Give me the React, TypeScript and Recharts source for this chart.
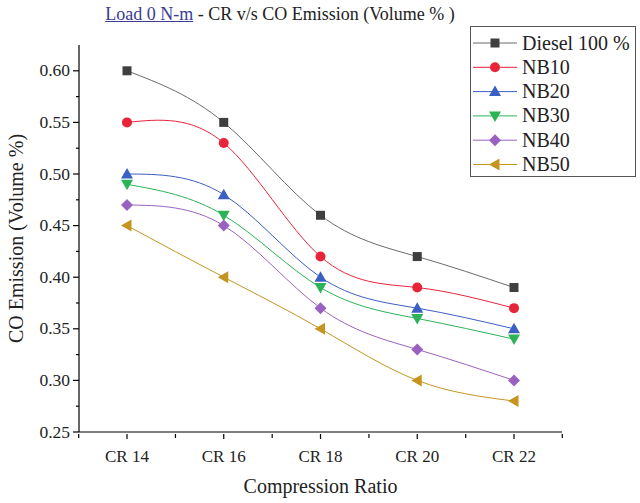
import { LineChart, Line, XAxis, YAxis } from "recharts";

const categories = ["CR 14", "CR 16", "CR 18", "CR 20", "CR 22"];
const diesel = [0.6, 0.55, 0.46, 0.42, 0.39];
const nb10 = [0.55, 0.53, 0.42, 0.39, 0.37];
const nb20 = [0.5, 0.48, 0.4, 0.37, 0.35];
const nb30 = [0.49, 0.46, 0.39, 0.36, 0.34];
const nb40 = [0.47, 0.45, 0.37, 0.33, 0.3];
const nb50 = [0.45, 0.4, 0.35, 0.3, 0.28];

const seriesNames = ["Diesel 100 %", "NB10", "NB20", "NB30", "NB40", "NB50"];
const seriesValues = [diesel, nb10, nb20, nb30, nb40, nb50];
const yTicks = [0.25, 0.275, 0.3, 0.325, 0.35, 0.375, 0.4, 0.425, 0.45, 0.475, 0.5, 0.525, 0.55, 0.575, 0.6];

const FONT = '"Liberation Serif", "Times New Roman", serif';

const styles = [
  { line: "#6a6a6a", fill: "#3f3f3f", shape: "square" },
  { line: "#e8243a", fill: "#e8243a", shape: "circle" },
  { line: "#3b5fc2", fill: "#3b5fc2", shape: "up" },
  { line: "#2db357", fill: "#2db357", shape: "down" },
  { line: "#9a62c0", fill: "#9a62c0", shape: "diamond" },
  { line: "#c59520", fill: "#c59520", shape: "left" },
];

const data = categories.map((cr, i) => {
  const row: Record<string, number | string> = { cr };
  seriesNames.forEach((name, s) => {
    row[name] = seriesValues[s][i];
  });
  return row;
});

function Marker({ cx, cy, shape, fill }: { cx: number; cy: number; shape: string; fill: string }) {
  if (cx == null || cy == null) return null;
  switch (shape) {
    case "square":
      return <rect x={cx - 4.5} y={cy - 4.5} width={9} height={9} fill={fill} />;
    case "circle":
      return <circle cx={cx} cy={cy} r={5} fill={fill} />;
    case "up":
      return <polygon points={`${cx},${cy - 6} ${cx + 6},${cy + 4.5} ${cx - 6},${cy + 4.5}`} fill={fill} />;
    case "down":
      return <polygon points={`${cx},${cy + 6} ${cx + 6},${cy - 4.5} ${cx - 6},${cy - 4.5}`} fill={fill} />;
    case "diamond":
      return <polygon points={`${cx},${cy - 6} ${cx + 6},${cy} ${cx},${cy + 6} ${cx - 6},${cy}`} fill={fill} />;
    case "left":
      return <polygon points={`${cx - 6},${cy} ${cx + 4.5},${cy - 6} ${cx + 4.5},${cy + 6}`} fill={fill} />;
    default:
      return null;
  }
}

const YTick = (props: any) => {
  const { x, y, payload } = props;
  const v = payload.value as number;
  const major = Math.round(v * 1000) % 50 === 0;
  return (
    <g>
      <line x1={x - (major ? 6 : 3)} x2={x} y1={y} y2={y} stroke="#000" strokeWidth={1.2} />
      {major && (
        <text x={x - 9} y={y} dy={5.5} textAnchor="end" fontFamily={FONT} fontSize={17.5} fill="#222">
          {v.toFixed(2)}
        </text>
      )}
    </g>
  );
};

const HALF_BAND = 48.3;

const XTick = (props: any) => {
  const { x, y, payload, index } = props;
  return (
    <g>
      <line x1={x} x2={x} y1={y} y2={y + 5} stroke="#000" strokeWidth={1.2} />
      <line x1={x - HALF_BAND} x2={x - HALF_BAND} y1={y} y2={y + 4} stroke="#000" strokeWidth={1.2} />
      {index === categories.length - 1 && (
        <line x1={x + HALF_BAND} x2={x + HALF_BAND} y1={y} y2={y + 4} stroke="#000" strokeWidth={1.2} />
      )}
      <text x={x} y={y + 28} textAnchor="middle" fontFamily={FONT} fontSize={17} fill="#222">
        {payload.value}
      </text>
    </g>
  );
};

export default function App() {
  return (
    <div style={{ position: "absolute", left: 0, top: 0, width: 640, height: 503, background: "#fff", fontFamily: FONT }}>
      <LineChart width={640} height={503} data={data} margin={{ top: 45, right: 78, bottom: 41, left: 19 }}>
        <XAxis
          dataKey="cr"
          padding={{ left: 48, right: 48 }}
          tickLine={false}
          tickSize={0}
          tick={<XTick />}
          axisLine={{ stroke: "#000", strokeWidth: 1.2 }}
          interval={0}
          height={30}
          label={{ value: "Compression Ratio", position: "insideBottom", offset: -31, fontFamily: FONT, fontSize: 20, fill: "#222" }}
        />
        <YAxis
          domain={[0.25, 0.625]}
          ticks={yTicks}
          interval={0}
          width={60}
          tickLine={false}
          tickSize={0}
          tickMargin={0}
          tick={<YTick />}
          axisLine={{ stroke: "#000", strokeWidth: 1.2 }}
          allowDataOverflow
          label={{ value: "CO Emission (Volume %)", angle: -90, position: "insideLeft", offset: -3, fontFamily: FONT, fontSize: 20, fill: "#222", style: { textAnchor: "middle" } }}
        />
        {seriesNames.map((name, s) => (
          <Line
            key={name}
            dataKey={name}
            type="natural"
            stroke={styles[s].line}
            strokeWidth={1}
            isAnimationActive={false}
            dot={(p: any) => <Marker key={`${name}-${p.index}`} cx={p.cx} cy={p.cy} shape={styles[s].shape} fill={styles[s].fill} />}
            activeDot={false}
          />
        ))}
      </LineChart>
      <div style={{ position: "absolute", left: 0, top: 4, width: 560, textAlign: "center", fontSize: 18, color: "#222", whiteSpace: "nowrap" }}>
        <span style={{ color: "#3b3b8f", textDecoration: "underline" }}>Load 0 N-m</span> - CR v/s CO Emission (Volume % )
      </div>
      <div style={{ position: "absolute", left: 470, top: 26, width: 166, height: 151, border: "1px solid #555", boxSizing: "border-box", background: "#fff" }}>
        <svg width={164} height={149}>
          {seriesNames.map((name, s) => {
            const y = 16 + s * 24.3;
            return (
              <g key={name}>
                <line x1={2} x2={46} y1={y} y2={y} stroke={styles[s].line} strokeWidth={1} />
                <Marker cx={24} cy={y} shape={styles[s].shape} fill={styles[s].fill} />
                <text x={51} y={y} dy={6.5} fontFamily={FONT} fontSize={20} fill="#222">
                  {name}
                </text>
              </g>
            );
          })}
        </svg>
      </div>
    </div>
  );
}
